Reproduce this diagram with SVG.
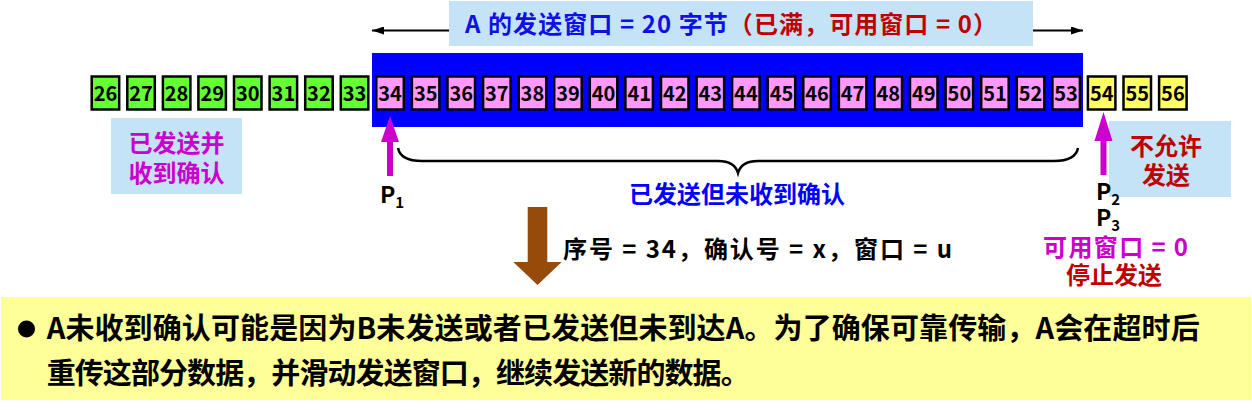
<svg xmlns="http://www.w3.org/2000/svg" width="1252" height="410" viewBox="0 0 1252 410">
<style>
text{font-family:"Noto Sans CJK SC","Noto Sans",sans-serif;font-weight:bold}
.n{font-size:20px;fill:#000;text-anchor:middle}
.bx{stroke:#000;stroke-width:2.5}
.gr{fill:#66FF33}
.pk{fill:#FF99FF}
.yl{fill:#FFFF66}
.lb{fill:#C5E3F6}
.mg{fill:#CC00CC}
.rd{fill:#C00000}
.bl{fill:#0000FF}
.c24{font-size:24px;text-anchor:middle}
.p{font-size:23px;fill:#000}
.sub{font-size:15px}
</style>
<defs>
<marker id="ah" viewBox="0 0 12 8" refX="12" refY="4" markerWidth="12" markerHeight="8" markerUnits="userSpaceOnUse" orient="auto"><path d="M0,0 L12,4 L0,8 Z" fill="#000"/></marker>
</defs>
<rect width="1252" height="410" fill="#fff"/>
<g id="window">
<rect x="372" y="53" width="711" height="74" fill="#0000FF"/>
</g>
<g id="title">
<rect class="lb" x="449" y="1" width="584" height="45"/>
<text x="465" y="33" font-size="24" textLength="532" lengthAdjust="spacing"><tspan fill="#1010E6">A 的发送窗口 = 20 字节</tspan><tspan fill="#C00000">（已满，可用窗口 = 0）</tspan></text>
</g>
<g id="boxes">
<g id="b26"><rect class="bx gr" x="91.7" y="76.5" width="27.5" height="33"/><text class="n" x="105.5" y="101">26</text></g>
<g id="b27"><rect class="bx gr" x="127.3" y="76.5" width="27.5" height="33"/><text class="n" x="141" y="101">27</text></g>
<g id="b28"><rect class="bx gr" x="162.9" y="76.5" width="27.5" height="33"/><text class="n" x="176.6" y="101">28</text></g>
<g id="b29"><rect class="bx gr" x="198.4" y="76.5" width="27.5" height="33"/><text class="n" x="212.2" y="101">29</text></g>
<g id="b30"><rect class="bx gr" x="234" y="76.5" width="27.5" height="33"/><text class="n" x="247.8" y="101">30</text></g>
<g id="b31"><rect class="bx gr" x="269.6" y="76.5" width="27.5" height="33"/><text class="n" x="283.4" y="101">31</text></g>
<g id="b32"><rect class="bx gr" x="305.2" y="76.5" width="27.5" height="33"/><text class="n" x="318.9" y="101">32</text></g>
<g id="b33"><rect class="bx gr" x="340.8" y="76.5" width="27.5" height="33"/><text class="n" x="354.5" y="101">33</text></g>
<g id="b34"><rect class="bx pk" x="376.3" y="76.5" width="27.5" height="33"/><text class="n" x="390.1" y="101">34</text></g>
<g id="b35"><rect class="bx pk" x="411.9" y="76.5" width="27.5" height="33"/><text class="n" x="425.7" y="101">35</text></g>
<g id="b36"><rect class="bx pk" x="447.5" y="76.5" width="27.5" height="33"/><text class="n" x="461.3" y="101">36</text></g>
<g id="b37"><rect class="bx pk" x="483.1" y="76.5" width="27.5" height="33"/><text class="n" x="496.8" y="101">37</text></g>
<g id="b38"><rect class="bx pk" x="518.7" y="76.5" width="27.5" height="33"/><text class="n" x="532.4" y="101">38</text></g>
<g id="b39"><rect class="bx pk" x="554.2" y="76.5" width="27.5" height="33"/><text class="n" x="568" y="101">39</text></g>
<g id="b40"><rect class="bx pk" x="589.8" y="76.5" width="27.5" height="33"/><text class="n" x="603.6" y="101">40</text></g>
<g id="b41"><rect class="bx pk" x="625.4" y="76.5" width="27.5" height="33"/><text class="n" x="639.2" y="101">41</text></g>
<g id="b42"><rect class="bx pk" x="661" y="76.5" width="27.5" height="33"/><text class="n" x="674.7" y="101">42</text></g>
<g id="b43"><rect class="bx pk" x="696.6" y="76.5" width="27.5" height="33"/><text class="n" x="710.3" y="101">43</text></g>
<g id="b44"><rect class="bx pk" x="732.1" y="76.5" width="27.5" height="33"/><text class="n" x="745.9" y="101">44</text></g>
<g id="b45"><rect class="bx pk" x="767.7" y="76.5" width="27.5" height="33"/><text class="n" x="781.5" y="101">45</text></g>
<g id="b46"><rect class="bx pk" x="803.3" y="76.5" width="27.5" height="33"/><text class="n" x="817.1" y="101">46</text></g>
<g id="b47"><rect class="bx pk" x="838.9" y="76.5" width="27.5" height="33"/><text class="n" x="852.6" y="101">47</text></g>
<g id="b48"><rect class="bx pk" x="874.5" y="76.5" width="27.5" height="33"/><text class="n" x="888.2" y="101">48</text></g>
<g id="b49"><rect class="bx pk" x="910" y="76.5" width="27.5" height="33"/><text class="n" x="923.8" y="101">49</text></g>
<g id="b50"><rect class="bx pk" x="945.6" y="76.5" width="27.5" height="33"/><text class="n" x="959.4" y="101">50</text></g>
<g id="b51"><rect class="bx pk" x="981.2" y="76.5" width="27.5" height="33"/><text class="n" x="995" y="101">51</text></g>
<g id="b52"><rect class="bx pk" x="1016.8" y="76.5" width="27.5" height="33"/><text class="n" x="1030.5" y="101">52</text></g>
<g id="b53"><rect class="bx pk" x="1052.4" y="76.5" width="27.5" height="33"/><text class="n" x="1066.1" y="101">53</text></g>
<g id="b54"><rect class="bx yl" x="1087.9" y="76.5" width="27.5" height="33"/><text class="n" x="1101.7" y="101">54</text></g>
<g id="b55"><rect class="bx yl" x="1123.5" y="76.5" width="27.5" height="33"/><text class="n" x="1137.3" y="101">55</text></g>
<g id="b56"><rect class="bx yl" x="1159.1" y="76.5" width="27.5" height="33"/><text class="n" x="1172.9" y="101">56</text></g>
</g>
<g id="acked">
<rect class="lb" x="111" y="118" width="131" height="76"/>
<text class="c24 mg" x="176.5" y="152">已发送并</text>
<text class="c24 mg" x="176.5" y="182">收到确认</text>
</g>
<g id="notallowed">
<rect class="lb" x="1109" y="121" width="122" height="76"/>
<text class="c24 rd" x="1166" y="155">不允许</text>
<text class="c24 rd" x="1166" y="184">发送</text>
</g>
<g id="p1">
<text class="p" x="380" y="203">P<tspan class="sub" dy="5">1</tspan></text>
</g>
<g id="p23">
<text class="p" x="1096" y="200">P<tspan class="sub" dy="5">2</tspan></text>
<text class="p" x="1096" y="226">P<tspan class="sub" dy="5">3</tspan></text>
</g>
<g id="unacked">
<text class="c24 bl" x="737" y="203">已发送但未收到确认</text>
</g>
<g id="segment">
<text x="563" y="258" font-size="24" fill="#000" textLength="389" lengthAdjust="spacing">序号 = 34，确认号 = x，窗口 = u</text>
</g>
<g id="stop">
<text class="mg" x="1043" y="256" font-size="24" textLength="145" lengthAdjust="spacing">可用窗口 = 0</text>
<text class="c24 rd" x="1114" y="284">停止发送</text>
</g>
<g id="connectors">
<line x1="449" y1="30.5" x2="372" y2="30.5" stroke="#000" stroke-width="2" marker-end="url(#ah)"/>
<line x1="1033" y1="30.5" x2="1083" y2="30.5" stroke="#000" stroke-width="2" marker-end="url(#ah)"/>
<path d="M387,176 L393,176 L393,142 L399,142 L390,116 L381,142 L387,142 Z" fill="#CC00CC"/>
<path d="M1100.5,175 L1106.5,175 L1106.5,141 L1112.5,141 L1103.5,112 L1094.5,141 L1100.5,141 Z" fill="#CC00CC"/>
<path d="M398,148 C400,158 410,161 422,161 L718,161 C730,161 736,166 738,173 C740,166 746,161 758,161 L1054,161 C1066,161 1076,158 1078,148" fill="none" stroke="#000" stroke-width="2.5"/>
<path d="M527.7,207 L547.3,207 L547.3,262 L561.7,262 L537.5,285 L513.3,262 L527.7,262 Z" fill="#964B0A"/>
</g>
<g id="note">
<rect x="1" y="297" width="1250" height="103" fill="#FFFF99"/>
<circle cx="26.5" cy="329" r="8.5" fill="#000"/>
<text x="46.7" y="339" font-size="29" fill="#000" textLength="1153" lengthAdjust="spacing">A未收到确认可能是因为B未发送或者已发送但未到达A。为了确保可靠传输，A会在超时后</text>
<text x="46.7" y="384" font-size="29" fill="#000" textLength="703" lengthAdjust="spacing">重传这部分数据，并滑动发送窗口，继续发送新的数据。</text>
</g>
</svg>
